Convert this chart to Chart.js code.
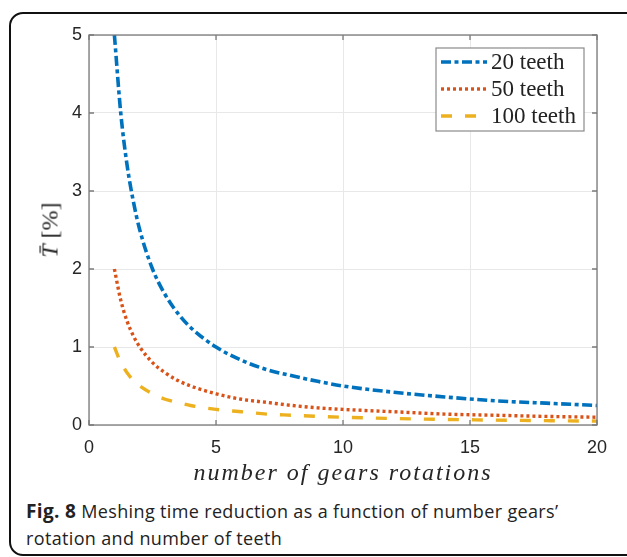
<!DOCTYPE html>
<html>
<head>
<meta charset="utf-8">
<script src="https://cdn.jsdelivr.net/npm/chart.js@4.4.1/dist/chart.umd.min.js"></script>
<style>
  body { margin: 0; background: #fff; width: 627px; height: 557px; overflow: hidden; position: relative; }
  #frame { position: absolute; left: 9px; top: 12px; width: 640px; height: 544px; border: 2px solid #111; border-radius: 14px 0 0 14px; box-sizing: border-box; }
  #wrap { position: absolute; left: 0; top: 0; width: 627px; height: 490px; }
  #ylab { position: absolute; left: 50px; top: 230px; transform: translate(-50%, -50%) rotate(-90deg); font-family: "Liberation Serif", serif; font-size: 24px; color: #262626; white-space: nowrap; }
  #xlab { position: absolute; left: 343px; top: 472px; transform: translate(-50%, -50%); font-family: "Liberation Serif", serif; font-style: italic; font-size: 24px; letter-spacing: 2px; color: #262626; white-space: nowrap; }
  #caption { position: absolute; left: 26px; top: 498px; font-family: "Open Sans", sans-serif; font-size: 18px; letter-spacing: 0.35px; line-height: 27px; color: #222; white-space: nowrap; }
  #caption b { font-size: 19px; }
</style>
</head>
<body>
<div id="frame"></div>
<div id="wrap"><canvas id="chart" width="627" height="490"></canvas></div>
<div id="ylab"><i>T&#772;</i> [%]</div>
<div id="xlab">number of gears rotations</div>
<div id="caption"><b>Fig. 8</b> Meshing time reduction as a function of number gears’<br>rotation and number of teeth</div>
<script>
// rotations (x) and reduction in % for each gear
const rotations = [1, 1.25, 1.5, 1.75, 2, 2.5, 3, 3.5, 4, 5, 6, 7, 8, 9, 10, 12, 14, 16, 18, 20];
const teeth20 = [5, 4, 3.33, 2.86, 2.5, 2, 1.67, 1.43, 1.25, 1, 0.83, 0.71, 0.63, 0.56, 0.5, 0.42, 0.36, 0.31, 0.28, 0.25];
const teeth50 = [2, 1.6, 1.33, 1.14, 1, 0.8, 0.67, 0.57, 0.5, 0.4, 0.33, 0.29, 0.25, 0.22, 0.2, 0.17, 0.14, 0.125, 0.11, 0.1];
const teeth100 = [1, 0.8, 0.67, 0.57, 0.5, 0.4, 0.33, 0.29, 0.25, 0.2, 0.17, 0.14, 0.125, 0.11, 0.1, 0.083, 0.071, 0.063, 0.056, 0.05];
const xTicks = [0, 5, 10, 15, 20];
const yTicks = [0, 1, 2, 3, 4, 5];

const toPts = vals => rotations.map((r, i) => ({ x: r, y: vals[i] }));

// box around plot area, inside tick marks, legend inside the axes
const boxPlugin = {
  id: 'box',
  afterDraw(chart) {
    const c = chart.ctx, a = chart.chartArea;
    const sx = chart.scales.x, sy = chart.scales.y;
    c.save();
    c.strokeStyle = '#7a7a7a';
    c.lineWidth = 1.3;
    c.strokeRect(a.left, a.top, a.right - a.left, a.bottom - a.top);
    c.beginPath();
    xTicks.forEach(v => {
      const px = sx.getPixelForValue(v);
      c.moveTo(px, a.bottom); c.lineTo(px, a.bottom - 5);
      c.moveTo(px, a.top); c.lineTo(px, a.top + 5);
    });
    yTicks.forEach(v => {
      const py = sy.getPixelForValue(v);
      c.moveTo(a.left, py); c.lineTo(a.left + 5, py);
      c.moveTo(a.right, py); c.lineTo(a.right - 5, py);
    });
    c.stroke();
    // legend
    const lx = 436, ly = 48, lw = 148, lh = 83;
    c.fillStyle = '#fff';
    c.fillRect(lx, ly, lw, lh);
    c.strokeStyle = '#8a8a8a';
    c.lineWidth = 1.2;
    c.strokeRect(lx, ly, lw, lh);
    chart.data.datasets.forEach((ds, i) => {
      const y = ly + 14 + i * 27;
      c.beginPath();
      c.setLineDash(ds.borderDash);
      c.strokeStyle = ds.borderColor;
      c.lineWidth = ds.borderWidth;
      c.moveTo(lx + 5, y);
      c.lineTo(lx + 51, y);
      c.stroke();
      c.setLineDash([]);
      c.fillStyle = '#222';
      c.font = '23px "Liberation Serif", serif';
      c.textBaseline = 'middle';
      c.fillText(ds.label, lx + 55, y + 1);
    });
    c.restore();
  }
};

new Chart(document.getElementById('chart'), {
  type: 'line',
  data: {
    datasets: [{
      label: '20 teeth',
      data: toPts(teeth20),
      borderColor: '#0072BD',
      borderWidth: 3.6,
      borderDash: [10, 3.5, 4, 3.5]
    }, {
      label: '50 teeth',
      data: toPts(teeth50),
      borderColor: '#D95319',
      borderWidth: 3.4,
      borderDash: [3, 3]
    }, {
      label: '100 teeth',
      data: toPts(teeth100),
      borderColor: '#EDB120',
      borderWidth: 3.4,
      borderDash: [11, 13]
    }]
  },
  options: {
    responsive: false,
    animation: false,
    devicePixelRatio: 1,
    layout: { padding: { top: 35, right: 30, left: 0, bottom: 0 } },
    elements: {
      point: { radius: 0 },
      line: { cubicInterpolationMode: 'monotone', fill: false }
    },
    plugins: {
      legend: { display: false },
      tooltip: { enabled: false }
    },
    scales: {
      x: {
        type: 'linear',
        min: 0,
        max: 20,
        afterBuildTicks: s => { s.ticks = xTicks.map(v => ({ value: v })); },
        afterFit: s => { s.height = 65; },
        grid: { color: '#e8e8e8', drawTicks: false },
        border: { display: false },
        ticks: { padding: 12, color: '#262626', font: { family: 'Liberation Sans, Arial', size: 18 } }
      },
      y: {
        min: 0,
        max: 5,
        afterBuildTicks: s => { s.ticks = yTicks.map(v => ({ value: v })); },
        afterFit: s => { s.width = 89; },
        grid: { color: '#e8e8e8', drawTicks: false },
        border: { display: false },
        ticks: { padding: 7, color: '#262626', font: { family: 'Liberation Sans, Arial', size: 18 } }
      }
    }
  },
  plugins: [boxPlugin]
});
</script>
</body>
</html>
